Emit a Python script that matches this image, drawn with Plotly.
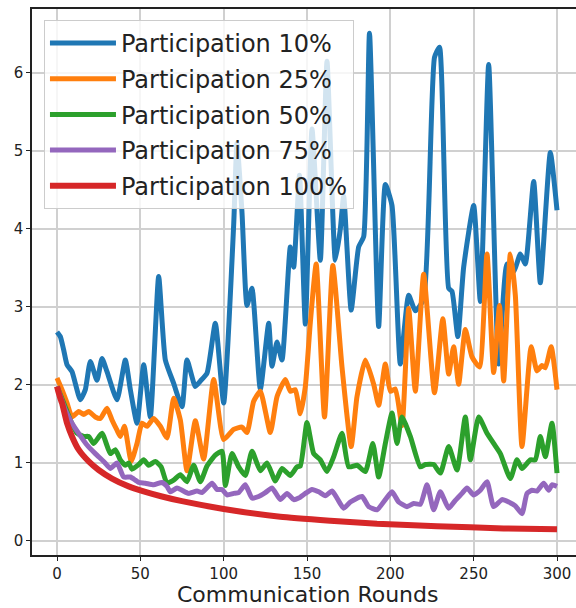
import plotly.graph_objects as go

# Participation 10%
rounds_10 = [0, 2, 4, 6, 9, 14, 17, 20, 24, 27, 30, 36, 41, 44, 48, 52, 56, 61, 65, 70,
             75, 78, 83, 86, 90, 95, 100, 106, 108, 111, 114, 117, 122, 127, 129, 132, 135,
             140, 142, 145.5, 149, 153, 158, 162, 167, 170, 172, 176.5, 181, 184, 187.5, 193,
             197, 201, 206, 211, 215, 220, 226.5, 229.5, 235, 237, 240.5, 244, 250, 254, 259,
             265, 270, 274, 278, 281, 286, 290, 296, 300]
loss_10 = [2.68, 2.62, 2.45, 2.26, 2.17, 1.81, 1.94, 2.30, 2.06, 2.34, 2.17, 1.81, 2.32, 1.94,
           1.51, 2.26, 1.59, 3.39, 2.32, 2.02, 1.72, 2.32, 1.98, 2.05, 2.15, 2.79, 1.77, 4.05,
           5.10, 4.21, 3.02, 3.24, 1.94, 2.79, 2.24, 2.55, 2.32, 3.77, 3.51, 4.69, 2.78, 5.28,
           3.60, 6.15, 3.60, 4.00, 4.42, 2.96, 3.77, 3.90, 6.51, 2.75, 4.57, 4.30, 2.27, 3.15,
           2.95, 3.10, 6.20, 6.33, 3.24, 3.20, 2.62, 3.51, 4.30, 3.07, 6.11, 2.27, 3.55, 3.45,
           3.68, 3.55, 4.61, 3.31, 4.98, 4.24]

# Participation 25%
rounds_25 = [0, 3, 6, 9, 13, 16, 19, 23, 26, 30, 33, 36, 38, 40.5, 44.5, 48, 51, 54, 58, 62,
             66, 70, 74, 78, 83, 88, 94, 100, 106, 111, 114, 118, 122, 128, 132, 137, 140,
             143, 146, 149, 152, 155.5, 160.5, 165.5, 171, 176.5, 180, 185, 190, 193, 197,
             200, 203, 207, 211, 215, 220, 226.5, 231.5, 235, 238, 241, 245, 249, 253.5, 258,
             262, 265.5, 268, 272, 275, 279, 284.5, 288, 291, 293, 296.5, 300]
loss_25 = [2.09, 1.94, 1.77, 1.59, 1.66, 1.62, 1.66, 1.59, 1.57, 1.70, 1.55, 1.42, 1.34, 1.47,
           1.02, 1.25, 1.51, 1.47, 1.57, 1.47, 1.32, 1.83, 1.55, 0.90, 1.54, 1.05, 2.07, 1.30,
           1.43, 1.46, 1.39, 1.79, 1.92, 1.39, 1.85, 2.07, 1.92, 1.94, 1.63, 1.98, 2.80, 3.55,
           1.59, 3.53, 2.23, 1.21, 1.85, 2.32, 2.01, 1.74, 2.27, 1.92, 1.95, 1.48, 2.98, 1.92,
           3.42, 1.90, 2.85, 2.14, 2.49, 2.01, 2.71, 2.36, 2.23, 3.68, 2.16, 3.02, 2.05, 3.68,
           3.15, 1.21, 2.49, 2.18, 2.25, 2.22, 2.49, 1.94]

# Participation 50%
rounds_50 = [0, 4, 8, 12, 16, 19, 22, 27, 32, 35, 38, 41, 43, 45, 49, 52, 55, 59, 62.5, 66,
             70, 74, 78, 82, 86, 90, 95, 99, 101, 105, 109, 113, 117, 122, 126, 131, 135,
             140, 144, 146, 150, 154, 158, 162, 166, 171, 175, 180, 185, 189.5, 193, 197,
             201, 204, 207, 212, 218, 221, 226, 230, 235, 240, 245, 248, 253, 258, 262, 266,
             272, 276, 279, 284, 287, 290, 293, 297, 300]
loss_50 = [1.98, 1.77, 1.55, 1.38, 1.34, 1.34, 1.25, 1.38, 1.12, 1.17, 1.04, 0.97, 1.00, 0.92,
           0.98, 1.04, 0.97, 1.02, 0.95, 0.74, 0.78, 0.85, 0.76, 0.97, 0.76, 0.96, 1.10, 1.15,
           0.71, 1.12, 0.95, 0.84, 1.15, 0.90, 1.00, 0.77, 0.93, 0.84, 0.95, 0.96, 1.52, 1.12,
           1.04, 0.89, 1.08, 1.38, 0.95, 0.97, 0.89, 1.25, 0.82, 1.25, 1.64, 1.25, 1.59, 1.34,
           0.95, 0.98, 0.98, 0.87, 1.21, 0.91, 1.59, 1.04, 1.59, 1.38, 1.25, 1.12, 0.80, 1.04,
           0.93, 1.04, 1.04, 1.34, 1.08, 1.51, 0.87]

# Participation 75%
rounds_75 = [0, 5, 9, 13, 18, 23, 28, 32, 36, 40, 44, 47, 49, 53, 58, 63, 66, 68, 72, 75,
             79, 84, 87, 93, 96, 99, 102, 106, 109, 113, 117, 121, 125, 129, 134, 138, 142,
             145, 149, 153, 157, 161, 165, 168, 172, 176, 183, 187, 192, 197, 201, 205, 210,
             214, 218, 222, 226, 230, 235, 239, 243, 246, 250, 254, 258, 262, 267, 271, 275,
             279, 282, 285, 288, 292, 295, 297, 300]
loss_75 = [1.98, 1.68, 1.51, 1.38, 1.23, 1.12, 1.02, 0.93, 1.00, 0.82, 0.82, 0.78, 0.75, 0.74,
           0.72, 0.75, 0.70, 0.63, 0.68, 0.65, 0.61, 0.64, 0.62, 0.74, 0.66, 0.66, 0.59, 0.61,
           0.62, 0.72, 0.55, 0.57, 0.62, 0.68, 0.53, 0.61, 0.53, 0.55, 0.61, 0.66, 0.63, 0.58,
           0.64, 0.55, 0.42, 0.50, 0.57, 0.44, 0.40, 0.53, 0.63, 0.50, 0.44, 0.48, 0.47, 0.72,
           0.40, 0.63, 0.42, 0.52, 0.61, 0.68, 0.59, 0.65, 0.76, 0.44, 0.53, 0.50, 0.45, 0.35,
           0.61, 0.65, 0.64, 0.74, 0.65, 0.72, 0.70]

# Participation 100%
rounds_100 = [0, 1, 2, 3, 6, 9, 13, 19, 25, 33, 43, 53, 63, 75, 100, 134, 164, 192, 228, 268, 300]
loss_100 = [1.98, 1.90, 1.83, 1.77, 1.51, 1.34, 1.17, 1.02, 0.91, 0.80, 0.70, 0.63, 0.57, 0.51,
            0.41, 0.31, 0.26, 0.22, 0.19, 0.16, 0.15]

labels = ["Participation 10%", "Participation 25%", "Participation 50%",
          "Participation 75%", "Participation 100%"]
colors = ["#1f77b4", "#ff7f0e", "#2ca02c", "#9467bd", "#d62728"]
widths = [5, 5, 5, 5, 6]
series = [(rounds_10, loss_10), (rounds_25, loss_25), (rounds_50, loss_50),
          (rounds_75, loss_75), (rounds_100, loss_100)]

FONT = "DejaVu Sans"
INK = "#222222"

fig = go.Figure()
for i, ((xs, ys), name) in enumerate(zip(series, labels)):
    fig.add_trace(go.Scatter(
        x=xs, y=ys, mode="lines", name=name, legendgroup=f"g{i}",
        line=dict(color=colors[i], width=widths[i], shape="spline", smoothing=0.5),
    ))

fig.update_layout(
    width=576, height=608,
    margin=dict(l=32, r=0, t=9, b=53),
    paper_bgcolor="white", plot_bgcolor="white",
    font=dict(family=FONT, color=INK),
    showlegend=True,
    legend=dict(
        x=0.022, y=0.98, xanchor="left", yanchor="top",
        bgcolor="rgba(255,255,255,0.8)", bordercolor="#cccccc", borderwidth=1,
        font=dict(family=FONT, size=24, color=INK),
        traceorder="grouped", tracegroupgap=1.5, itemwidth=66,
    ),
    xaxis=dict(
        range=[-15, 311.4], tickvals=[0, 50, 100, 150, 200, 250, 300],
        showgrid=True, gridcolor="#d0d0d0", gridwidth=1.5,
        showline=True, linecolor=INK, linewidth=1.5, mirror=True,
        ticks="outside", ticklen=4, tickcolor=INK,
        tickfont=dict(size=15, family=FONT, color=INK),
        zeroline=False,
    ),
    yaxis=dict(
        range=[-0.18, 6.82], tickvals=[0, 1, 2, 3, 4, 5, 6],
        showgrid=True, gridcolor="#d0d0d0", gridwidth=1.5,
        showline=True, linecolor=INK, linewidth=1.5, mirror=False,
        ticks="outside", ticklen=4, tickcolor=INK,
        tickfont=dict(size=15, family=FONT, color=INK),
        zeroline=False,
    ),
    annotations=[dict(
        text="Communication Rounds", xref="paper", yref="paper",
        x=0.506, y=-0.0971, xanchor="center", yanchor="bottom", showarrow=False,
        borderpad=0, font=dict(size=22, family=FONT, color=INK),
    )],
)

fig.write_html("out.html")
